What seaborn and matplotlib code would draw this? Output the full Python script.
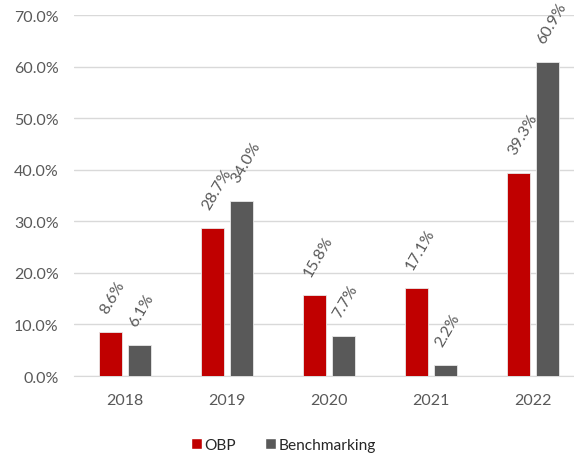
import pandas as pd
import matplotlib.pyplot as plt
import seaborn as sns
from matplotlib.ticker import PercentFormatter
from matplotlib.patches import Patch

years = ["2018", "2019", "2020", "2021", "2022"]
obp = [8.6, 28.7, 15.8, 17.1, 39.3]
benchmarking = [6.1, 34.0, 7.7, 2.2, 60.9]
series_names = ["OBP", "Benchmarking"]
colors = ["#C00000", "#595959"]

df = pd.DataFrame({
    "year": years * 2,
    "value": obp + benchmarking,
    "series": [series_names[0]] * 5 + [series_names[1]] * 5,
})

sns.set_style("white")
plt.rcParams["font.family"] = ["Lato", "DejaVu Sans"]

fig = plt.figure(figsize=(5.74, 4.60), dpi=100)
# plot area runs a little past the right edge, like the cropped original
ax = fig.add_axes([0.129, 0.1804, 0.8885, 0.7848])

sns.barplot(data=df, x="year", y="value", hue="series", palette=colors,
            saturation=1, width=0.57, gap=0.22, ax=ax, legend=False, zorder=3,
            edgecolor="#e8e8e8", linewidth=0.6)

for bars in ax.containers:
    for bar in bars:
        h = bar.get_height()
        ax.annotate(f"{h:.1f}%", (bar.get_x() + bar.get_width() / 2, h),
                    xytext=(-7, 20), textcoords="offset pixels",
                    rotation=60, rotation_mode="anchor",
                    ha="left", va="center", fontsize=11.5, color="#595959")

ax.set_ylim(0, 70)
ax.set_yticks(range(0, 71, 10))
ax.yaxis.set_major_formatter(PercentFormatter(decimals=1))
ax.set_xlim(-0.5, 4.5)
ax.grid(axis="y", color="#D9D9D9", linewidth=1, zorder=0)
ax.set_xlabel("")
ax.set_ylabel("")
for s in ["top", "right", "left"]:
    ax.spines[s].set_visible(False)
ax.spines["bottom"].set_color("#D9D9D9")
ax.tick_params(axis="both", length=0, labelsize=11.5, labelcolor="#595959")
ax.tick_params(axis="x", pad=12)
ax.tick_params(axis="y", pad=11)

handles = [Patch(facecolor=c, label=n) for c, n in zip(colors, series_names)]
fig.legend(handles=handles, loc="center", bbox_to_anchor=(0.494, 0.03), ncol=2,
           frameon=False, fontsize=11.2, handlelength=0.7, handleheight=0.7,
           handletextpad=0.15, columnspacing=1.9)

plt.savefig("out.png", dpi=100)
